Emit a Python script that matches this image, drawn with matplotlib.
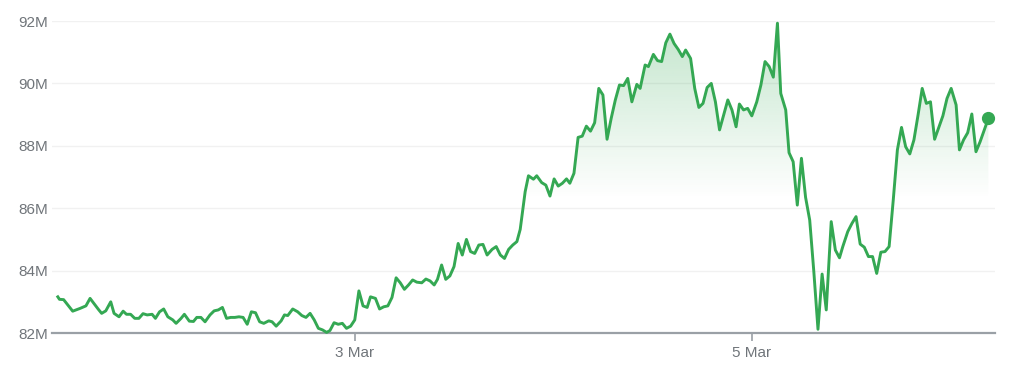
import matplotlib
matplotlib.use('Agg')
import matplotlib.pyplot as plt
import matplotlib.dates as mdates
import numpy as np
import pandas as pd

# Readings: hours relative to 3 Mar 00:00, value in millions
hours = [-35.9, -35.7, -35.2, -34.7, -34.1, -33.2, -32.5, -32.0, -31.4, -31.0,
         -30.6, -30.1, -29.5, -29.1, -28.5, -28.0, -27.6, -27.1, -26.6, -26.1,
         -25.6, -25.1, -24.5, -24.1, -23.6, -23.1, -22.6, -22.0, -21.6, -21.0,
         -20.6, -20.0, -19.5, -19.1, -18.6, -18.1, -17.5, -17.0, -16.5, -16.0,
         -15.5, -15.0, -14.5, -14.0, -13.5, -13.0, -12.5, -12.0, -11.5, -11.0,
         -10.4, -10.0, -9.5, -8.9, -8.5, -8.1, -7.5, -6.9, -6.4, -5.9,
         -5.4, -4.9, -4.4, -3.9, -3.4, -3.0, -2.5, -2.0, -1.5, -1.0,
         -0.5, 0.0, 0.5, 1.0, 1.5, 1.9, 2.5, 3.0, 3.5, 4.0,
         4.5, 5.0, 5.5, 6.0, 6.5, 7.0, 7.5, 8.1, 8.6, 9.1,
         9.6, 10.0, 10.5, 11.0, 11.5, 12.0, 12.5, 13.0, 13.5, 14.0,
         14.5, 15.0, 15.5, 16.0, 16.6, 17.1, 17.6, 18.1, 18.6, 19.1,
         19.6, 20.0, 20.6, 21.0, 21.6, 22.0, 22.6, 23.1, 23.6, 24.1,
         24.6, 25.1, 25.6, 26.0, 26.5, 27.0, 27.5, 28.0, 28.5, 29.0,
         29.5, 30.0, 30.5, 31.0, 31.5, 32.0, 32.5, 33.0, 33.5, 34.1,
         34.5, 35.1, 35.5, 36.1, 36.6, 37.1, 37.6, 38.1, 38.6, 39.1,
         39.6, 40.0, 40.6, 41.1, 41.6, 42.1, 42.6, 43.1, 43.6, 44.1,
         44.6, 45.1, 45.6, 46.1, 46.5, 47.0, 47.5, 48.0, 48.6, 49.1,
         49.6, 50.1, 50.6, 51.1, 51.5, 52.1, 52.5, 53.0, 53.5, 54.0,
         54.5, 55.0, 55.5, 56.0, 56.5, 57.0, 57.6, 58.1, 58.6, 59.0,
         59.6, 60.1, 60.6, 61.1, 61.6, 62.1, 62.6, 63.1, 63.6, 64.1,
         64.6, 65.1, 65.6, 66.1, 66.6, 67.1, 67.6, 68.1, 68.6, 69.1,
         69.6, 70.1, 70.6, 71.1, 71.6, 72.1, 72.7, 73.1, 73.6, 74.1,
         74.6, 75.1, 75.6, 76.6]
values = [83.16, 83.08, 83.07, 82.90, 82.70, 82.79, 82.87, 83.11, 82.90, 82.76,
          82.63, 82.71, 83.00, 82.63, 82.52, 82.70, 82.60, 82.60, 82.47, 82.47,
          82.62, 82.58, 82.60, 82.47, 82.68, 82.77, 82.52, 82.42, 82.31, 82.47,
          82.60, 82.38, 82.37, 82.50, 82.50, 82.36, 82.58, 82.71, 82.74, 82.82,
          82.47, 82.50, 82.50, 82.52, 82.50, 82.28, 82.68, 82.65, 82.36, 82.31,
          82.39, 82.36, 82.22, 82.39, 82.58, 82.56, 82.77, 82.68, 82.56, 82.50,
          82.63, 82.42, 82.15, 82.10, 82.02, 82.08, 82.33, 82.28, 82.31, 82.15,
          82.22, 82.42, 83.35, 82.87, 82.82, 83.16, 83.11, 82.77, 82.84, 82.87,
          83.14, 83.77, 83.61, 83.40, 83.54, 83.70, 83.63, 83.61, 83.73, 83.67,
          83.54, 83.72, 84.18, 83.72, 83.83, 84.13, 84.87, 84.50, 85.00, 84.61,
          84.55, 84.82, 84.84, 84.50, 84.68, 84.77, 84.50, 84.39, 84.68, 84.82,
          84.93, 85.32, 86.53, 87.04, 86.93, 87.04, 86.82, 86.74, 86.39, 86.94,
          86.71, 86.80, 86.94, 86.80, 87.12, 88.27, 88.31, 88.63, 88.47, 88.74,
          89.84, 89.63, 88.21, 88.88, 89.47, 89.95, 89.93, 90.16, 89.41, 89.97,
          89.84, 90.59, 90.54, 90.93, 90.73, 90.70, 91.30, 91.58, 91.28, 91.09,
          90.86, 91.07, 90.80, 89.84, 89.23, 89.36, 89.87, 90.00, 89.41, 88.51,
          88.99, 89.47, 89.15, 88.61, 89.34, 89.15, 89.20, 88.96, 89.41, 89.95,
          90.70, 90.54, 90.20, 91.93, 89.68, 89.15, 87.78, 87.49, 86.10, 87.60,
          86.35, 85.62, 83.96, 82.12, 83.89, 82.74, 85.57, 84.66, 84.41, 84.77,
          85.25, 85.51, 85.73, 84.85, 84.75, 84.45, 84.45, 83.91, 84.59, 84.61,
          84.77, 86.26, 87.87, 88.59, 87.97, 87.74, 88.19, 88.99, 89.84, 89.36,
          89.41, 88.21, 88.59, 88.96, 89.52, 89.84, 89.31, 87.87, 88.19, 88.42,
          89.02, 87.81, 88.13, 88.88]

y_ticks = [82, 84, 86, 88, 90, 92]
x_ticks = ['2024-03-03', '2024-03-05']

green = '#34a853'
gray_text = '#70757a'

origin = pd.Timestamp('2024-03-03')
times = origin + pd.to_timedelta(hours, unit='h')
tnum = mdates.date2num(times.to_pydatetime())
vals = np.array(values)

fig = plt.figure(figsize=(10.18, 3.72), dpi=100)
ax = fig.add_axes([0.0511, 0.1048, 0.9263, 0.8387])

x_lo = mdates.date2num(origin + pd.Timedelta(hours=-36.6))
x_hi = mdates.date2num(origin + pd.Timedelta(hours=77.4))
ax.set_xlim(x_lo, x_hi)
ax.set_ylim(82, 92)

# gradient fill under the line
poly = ax.fill_between(tnum, vals, 82, color='none', lw=0)
grad = np.zeros((256, 2, 4))
rgb = matplotlib.colors.to_rgb(green)
yy = np.linspace(92, 82, 256)
alpha = np.clip((yy - 86.3) / (92 - 86.3), 0, 1) * 0.3
grad[:, :, :3] = rgb
grad[:, :, 3] = alpha[:, None]
im = ax.imshow(grad, extent=[x_lo, x_hi, 82, 92], aspect='auto',
               origin='upper', zorder=1, interpolation='bilinear')
path = poly.get_paths()[0]
im.set_clip_path(path, transform=ax.transData)

ax.plot(tnum, vals, color=green, lw=2.1, zorder=3, clip_on=False,
        solid_joinstyle='round')
ax.plot(tnum[-1], vals[-1], 'o', color=green, ms=8.5, zorder=4, clip_on=False)

ax.set_yticks(y_ticks)
ax.set_yticklabels([f'{v}M' for v in y_ticks])
ax.grid(axis='y', color='#f1f1f1', lw=1)
ax.set_axisbelow(True)

xt = mdates.date2num(pd.to_datetime(x_ticks).to_pydatetime())
ax.set_xticks(xt)
ax.set_xticklabels([pd.Timestamp(d).strftime('%-d %b') for d in x_ticks])

for s in ['top', 'right', 'left']:
    ax.spines[s].set_visible(False)
ax.spines['bottom'].set_color('#9aa0a6')
ax.spines['bottom'].set_linewidth(1.6)

ax.tick_params(axis='y', length=0, pad=3, labelsize=11, labelcolor=gray_text)
ax.tick_params(axis='x', length=6, width=1.2, color='#9aa0a6', pad=3,
               labelsize=11, labelcolor=gray_text)
for lab in ax.get_xticklabels() + ax.get_yticklabels():
    lab.set_fontfamily('Liberation Sans')

fig.savefig('out.png', dpi=100)
